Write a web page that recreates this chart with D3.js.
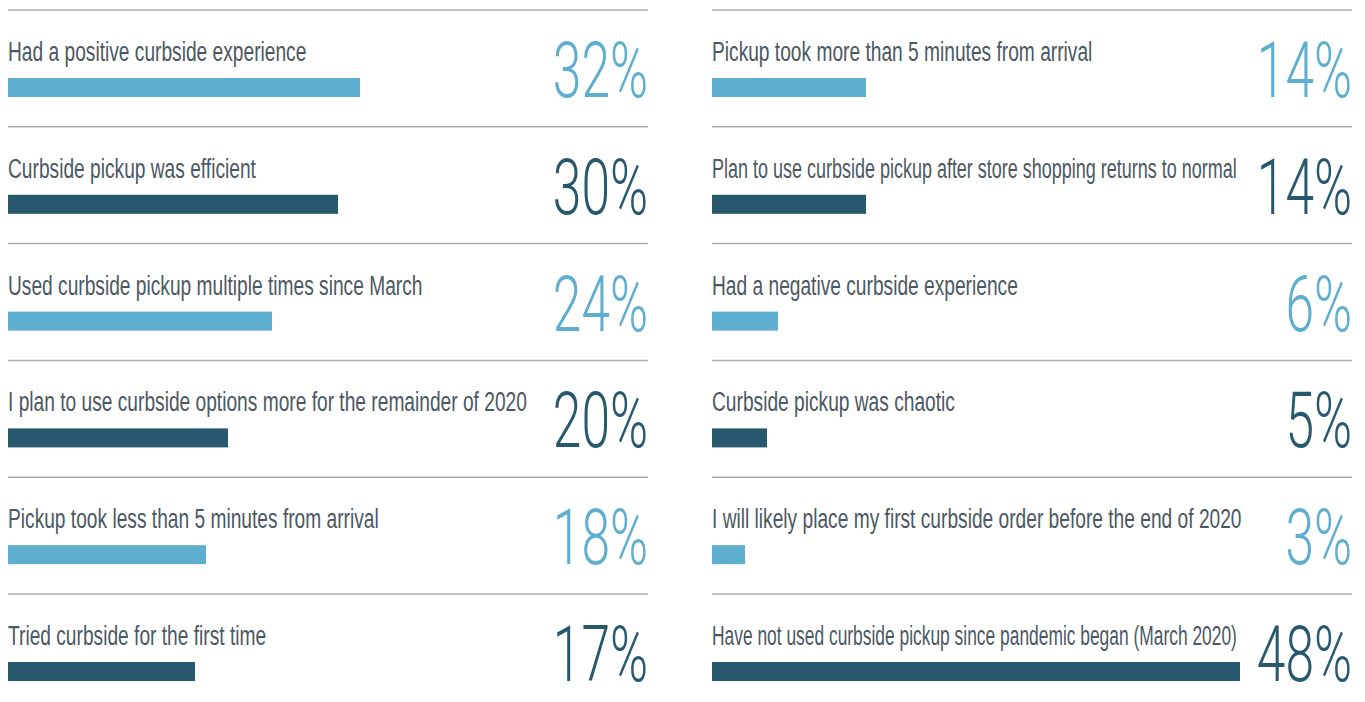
<!DOCTYPE html>
<html>
<head>
<meta charset="utf-8">
<script src="https://cdn.jsdelivr.net/npm/d3@7"></script>
<style>
  body { margin: 0; background: #fff; }
  svg { display: block; }
</style>
</head>
<body>
<svg id="chart" width="1365" height="702"></svg>
<script>
// survey answers, two columns of six
const leftLabels = [
  'Had a positive curbside experience',
  'Curbside pickup was efficient',
  'Used curbside pickup multiple times since March',
  'I plan to use curbside options more for the remainder of 2020',
  'Pickup took less than 5 minutes from arrival',
  'Tried curbside for the first time'
];
const leftValues = [32, 30, 24, 20, 18, 17];

const rightLabels = [
  'Pickup took more than 5 minutes from arrival',
  'Plan to use curbside pickup after store shopping returns to normal',
  'Had a negative curbside experience',
  'Curbside pickup was chaotic',
  'I will likely place my first curbside order before the end of 2020',
  'Have not used curbside pickup since pandemic began (March 2020)'
];
const rightValues = [14, 14, 6, 5, 3, 48];

const colors = ['#5eaed0', '#27586e'];

const svg = d3.select('#chart');

// 11px per percent
const x = d3.scaleLinear().domain([0, 100]).range([0, 1100]);
const y = d3.scaleLinear().domain([0, 6]).range([10, 10 + 6 * 116.8]);

const colW = 640;
const labelScale = 0.685;
const numScale = 0.66;
const gap = 20;

function drawColumn(left, labels, values) {
  const g = svg.append('g').attr('transform', `translate(${left},0)`);

  const rows = g.selectAll('g.row')
    .data(labels.map((l, i) => ({ label: l, value: values[i], i: i })))
    .join('g')
    .attr('class', 'row')
    .attr('transform', d => `translate(0,${y(d.i)})`);

  rows.append('line')
    .attr('x1', 0).attr('x2', colW)
    .attr('y1', 0).attr('y2', 0)
    .attr('stroke', '#a9adb1')
    .attr('stroke-width', 1.5);

  rows.append('rect')
    .attr('x', 0)
    .attr('y', 68)
    .attr('width', d => x(d.value))
    .attr('height', 19)
    .attr('fill', d => colors[d.i % 2]);

  rows.append('text')
    .attr('class', 'num')
    .attr('transform', `translate(${colW},87) scale(${numScale},1)`)
    .attr('text-anchor', 'end')
    .attr('font-family', 'Roboto, sans-serif')
    .attr('font-weight', 300)
    .attr('font-size', 78)
    .attr('fill', d => colors[d.i % 2])
    .text(d => d.value + '%');

  rows.append('text')
    .attr('class', 'label')
    .attr('transform', `translate(0,51) scale(${labelScale},1)`)
    .attr('font-family', '"Liberation Sans Narrow", "Liberation Sans", Arial, sans-serif')
    .attr('font-size', 28)
    .attr('fill', '#4b5862')
    .text(d => d.label);

  // squeeze labels that would run into the big number
  rows.each(function () {
    const row = d3.select(this);
    const numW = row.select('.num').node().getBBox().width * numScale;
    const lab = row.select('.label');
    const labW = lab.node().getComputedTextLength() * labelScale;
    const maxW = colW - numW - gap;
    if (labW > maxW) {
      lab.attr('transform', `translate(0,51) scale(${labelScale * maxW / labW},1)`);
    }
  });
}

drawColumn(8, leftLabels, leftValues);
drawColumn(712, rightLabels, rightValues);
</script>
</body>
</html>
